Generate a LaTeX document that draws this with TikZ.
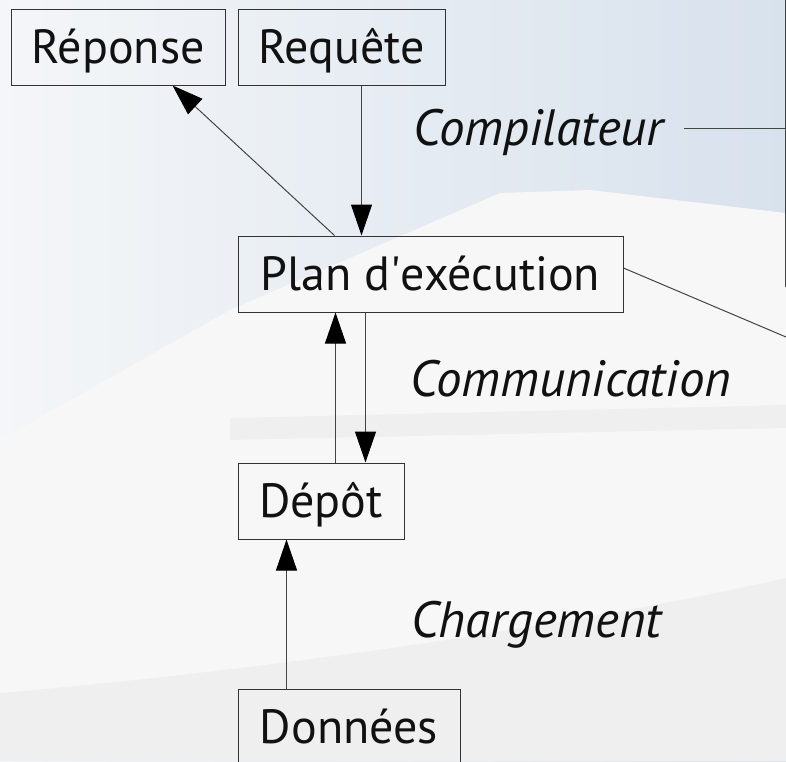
\documentclass[tikz,border=0pt]{standalone}
\usepackage{fontspec}
\setmainfont{PT Sans}
\usetikzlibrary{arrows.meta}
\definecolor{bgblue}{HTML}{D8E2ED}
\definecolor{bgleft}{HTML}{F4F6F8}
\definecolor{bgwhite}{HTML}{F7F7F7}
\definecolor{bggray}{HTML}{EBEBEB}
\definecolor{boxline}{HTML}{333333}
\definecolor{conline}{HTML}{444444}
\definecolor{ink}{HTML}{111111}
\begin{document}
\begin{tikzpicture}[x=1pt,y=-1pt,
  box/.style={draw=boxline, line width=1pt, text=ink, inner xsep=0pt, inner ysep=0pt,
    minimum height=76pt, text height=32pt, text depth=0pt,
    font=\fontsize{48}{54}\selectfont},
  lab/.style={anchor=base west, text=ink, inner sep=0pt, font=\fontsize{51}{56}\selectfont\itshape},
  con/.style={draw=conline, line width=1pt},
  arr/.style={con, -{Triangle[length=31pt,width=21pt,color=black,fill=black]}}]
% background
\useasboundingbox (0,0) rectangle (786,761);
\shade[left color=bgleft, right color=bgblue] (0,0) rectangle (786,761);
\fill[bgwhite] (786,213) -- (590,190) -- (500,193) -- (230,310) -- (0,440) -- (0,761) -- (786,761) -- cycle;
\fill[bggray, opacity=0.6] (230,418) -- (786,405) -- (786,428) -- (230,440) -- cycle;
\fill[bggray, opacity=0.6] (0,693) .. controls (300,667) and (600,620) .. (786,578) -- (786,761) -- (0,761) -- cycle;
% nodes
\node[box, minimum width=214pt] (rep) at (118,47) {Réponse};
\node[box, minimum width=207pt] (req) at (341.5,47) {Requête};
\node[box, minimum width=385pt] (plan) at (430.5,274) {Plan d\textquotesingle exécution};
\node[box, minimum width=166pt] (dep) at (321,501) {Dépôt};
\node[box, minimum width=222pt] (don) at (349,727) {Données};
\node[lab] (comp) at (413,145) {Compilateur};
\node[lab] (comm) at (410,396) {Communication};
\node[lab] (charg) at (411,637) {Chargement};
% edge coordinates
\coordinate (ctop) at (785.5,0);
\coordinate (cbot) at (785.5,287);
\coordinate (cmid) at (785.5,128);
\coordinate (cout) at (786,337);
% connectors
\draw[arr] ([xshift=124pt]req.south west) -- ([xshift=124pt]plan.north west);
\draw[arr] ([xshift=97pt]plan.north west) -- ([xshift=162pt]rep.south west);
\draw[arr] ([xshift=98pt]dep.north west) -- ([xshift=98pt]plan.south west);
\draw[arr] ([xshift=128pt]plan.south west) -- ([xshift=128pt]dep.north west);
\draw[arr] ([xshift=49pt]don.north west) -- ([xshift=49pt]dep.south west);
\draw[con] (ctop) -- (cbot);
\draw[con] ([xshift=20pt]comp.base east |- cmid) -- (cmid);
\draw[con] ([yshift=6pt]plan.east) -- (cout);
\end{tikzpicture}
\end{document}
